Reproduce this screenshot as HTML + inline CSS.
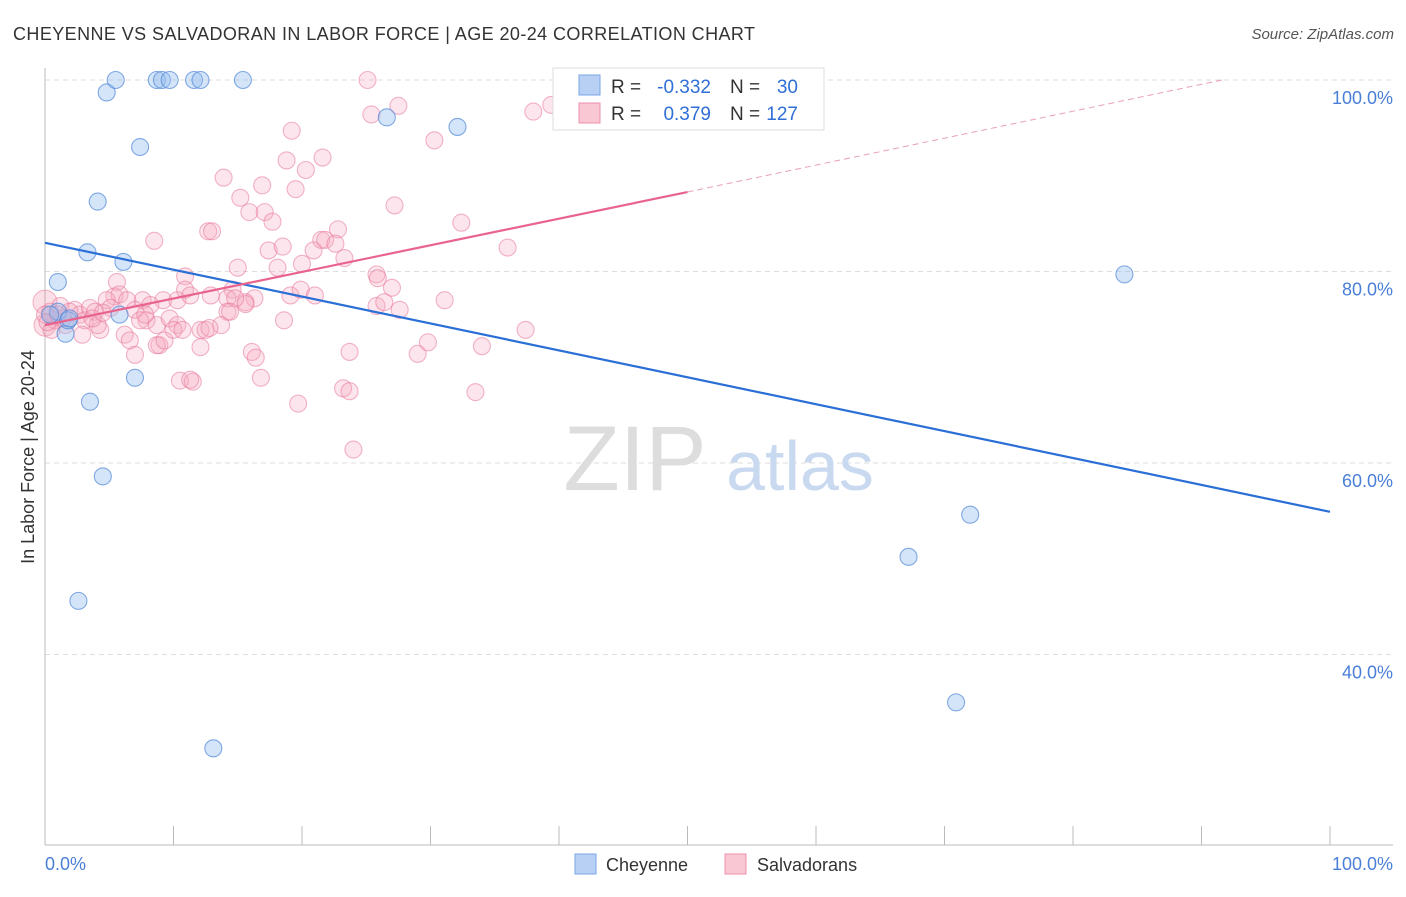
<!DOCTYPE html>
<html><head><meta charset="utf-8"><style>
body{margin:0;background:#fff;font-family:"Liberation Sans",sans-serif;}
svg text{font-family:"Liberation Sans",sans-serif;}
</style></head><body>
<svg width="1406" height="892" viewBox="0 0 1406 892" xmlns="http://www.w3.org/2000/svg">
<text x="13" y="40" font-size="18" fill="#333" textLength="742">CHEYENNE VS SALVADORAN IN LABOR FORCE | AGE 20-24 CORRELATION CHART</text>
<text x="1394" y="39" font-size="15" fill="#555" font-style="italic" text-anchor="end">Source: ZipAtlas.com</text>
<g id="grid"></g>
<g><text x="635" y="490" font-size="92" fill="#ddd" font-family="Liberation Serif" text-anchor="middle">ZIP</text><text x="800" y="490" font-size="70" fill="#c9d9f0" text-anchor="middle">atlas</text></g>
<line x1="45" y1="68" x2="45" y2="845" stroke="#bbb"/>
<line x1="45" y1="845" x2="1393" y2="845" stroke="#bbb"/>
<g id="ticks"></g>
<g id="pink"></g>
<g id="blue"></g>
<g id="lines"></g>
<text x="45" y="870" font-size="18" fill="#4a7fd8">0.0%</text>
<text x="1393" y="870" font-size="18" fill="#4a7fd8" text-anchor="end">100.0%</text>
<text transform="translate(34,457) rotate(-90)" font-size="18" fill="#333" text-anchor="middle">In Labor Force | Age 20-24</text>
<g>
<rect x="553" y="68" width="271" height="62" fill="#fff" stroke="#ddd"/>
<rect x="579" y="75" width="21" height="20" fill="#b8d0f4" stroke="#7aa6e6"/>
<rect x="579" y="103" width="21" height="20" fill="#f9c6d4" stroke="#ee8fab"/>
<text x="611" y="93" font-size="19" fill="#333">R =</text>
<text x="711" y="93" font-size="19" fill="#2f6fd6" text-anchor="end">-0.332</text>
<text x="730" y="93" font-size="19" fill="#333">N =</text>
<text x="798" y="93" font-size="19" fill="#2f6fd6" text-anchor="end">30</text>
<text x="611" y="120" font-size="19" fill="#333">R =</text>
<text x="711" y="120" font-size="19" fill="#2f6fd6" text-anchor="end">0.379</text>
<text x="730" y="120" font-size="19" fill="#333">N =</text>
<text x="798" y="120" font-size="19" fill="#2f6fd6" text-anchor="end">127</text>
</g>
<g>
<rect x="575" y="854" width="21" height="20" fill="#b8d0f4" stroke="#7aa6e6"/>
<text x="606" y="871" font-size="18" fill="#333">Cheyenne</text>
<rect x="725" y="854" width="21" height="20" fill="#f9c6d4" stroke="#ee8fab"/>
<text x="757" y="871" font-size="18" fill="#333">Salvadorans</text>
</g>
</svg>
<script>
const yTicks=[100,80,60,40];
const yTickLabels=["100.0%","80.0%","60.0%","40.0%"];
const blueX=[1.0,1.6,3.5,4.5,2.6,13.1,1.0,3.3,4.1,4.8,5.5,7.4,6.1,7.0,5.8,8.7,9.1,9.7,11.6,12.1,15.4,26.6,32.1,84.0,72.0,67.2,70.9,1.8,0.4,1.9];
const blueY=[78.9,73.5,66.4,58.6,45.6,30.2,75.8,82.0,87.3,98.7,100,93.0,81.0,68.9,75.5,100,100,100,100,100,100,96.1,95.1,79.7,54.6,50.2,35.0,74.9,75.5,75.1];
const pinkX=[25.1,27.5,25.4,38.0,39.4,30.3,19.2,18.8,21.6,20.3,19.5,16.9,13.9,15.2,15.9,17.1,17.7,27.2,32.4,8.5,12.7,13.0,17.4,18.5,20.9,21.5,22.8,21.8,22.6,23.3,15.0,10.9,18.1,20.0,25.8,25.9,27.0,36.0,5.6,7.6,9.2,10.3,10.9,11.3,12.9,14.6,14.2,16.3,15.6,19.1,19.9,21.0,25.8,26.4,27.6,31.1,37.4,5.4,5.8,4.8,6.4,7.0,8.2,7.9,8.7,9.7,10.3,12.1,12.5,14.2,13.7,18.6,15.6,6.2,6.6,7.0,8.9,8.7,12.1,9.3,16.1,16.4,23.7,29.0,29.8,34.0,10.5,11.5,11.3,16.8,19.7,23.2,23.7,33.5,24.0,1.2,0.4,0.8,1.6,2.3,2.7,3.1,3.5,3.9,4.3,4.1,0.5,1.9,1.4,0,0.2,1.0,2.9,3.7,5.1,4.5,7.4,7.8,10.0,10.7,14.8,14.4,12.8];
const pinkY=[100,97.3,96.4,96.7,97.4,93.7,94.7,91.6,91.9,90.6,88.6,89.0,89.8,87.7,86.2,86.2,85.2,86.9,85.1,83.2,84.2,84.2,82.2,82.6,82.2,83.3,84.4,83.3,82.9,81.4,80.4,79.5,80.4,80.8,79.7,79.3,78.3,82.5,78.9,77.0,77.0,77.0,78.1,77.5,77.5,78.1,77.2,77.2,76.8,77.5,78.1,77.5,76.4,76.8,76.0,77.0,73.9,77.4,77.6,77.0,77.0,76.0,76.5,74.9,74.4,75.1,74.4,73.9,73.9,75.8,74.4,74.9,76.6,73.4,72.8,71.3,72.3,72.3,72.1,72.8,71.6,71.0,71.6,71.4,72.6,72.2,68.6,68.5,68.7,68.9,66.2,67.8,67.5,67.4,61.4,76.4,75.8,74.9,74.4,76.0,75.5,74.9,76.2,75.8,73.9,74.4,73.9,75.8,75.1,75.5,74.7,75.5,73.4,75.1,76.2,75.7,74.9,75.5,73.9,73.9,77.2,75.8,74.1];
const blueTrend=[[0,83.0],[100,54.9]];
const pinkTrendSolid=[[0,74.4],[50,88.3]];
const pinkTrendDash=[[50,88.3],[91.6,100]];
const NS='http://www.w3.org/2000/svg';
const sx=v=>45+v*12.85, sy=v=>80+(100-v)*9.575;
function mk(t,a,p){const e=document.createElementNS(NS,t);for(const k in a)e.setAttribute(k,a[k]);p.appendChild(e);return e;}
const grid=document.getElementById('grid');
yTicks.forEach((v,i)=>{
 const l=mk('line',{x1:45,x2:1393,y1:sy(v),y2:sy(v),stroke:'#ddd','stroke-dasharray':'5,4'},grid);
 
 
 const t=mk('text',{x:1393,y:sy(v)+24,'font-size':18,fill:'#4a7fd8','text-anchor':'end'},grid);
 t.textContent=yTickLabels[i];
 
 
});
const ticks=document.getElementById('ticks');
for(let i=1;i<=10;i++){const l=mk('line',{x1:sx(i*10),x2:sx(i*10),y1:826,y2:845,stroke:'#bbb'},ticks);
 
 }
const pink=document.getElementById('pink');
[[0,76.8,12],[0,74.4,11]].forEach(p=>{const c=mk('circle',{cx:sx(p[0]),cy:sy(p[1]),r:p[2],fill:'rgba(240,130,160,0.25)',stroke:'rgba(230,110,145,0.5)'},pink);
 
 });
pinkX.forEach((x,i)=>{const c=mk('circle',{cx:sx(x),cy:sy(pinkY[i]),r:8.5,fill:'rgba(246,170,192,0.3)',stroke:'rgba(232,120,155,0.55)','stroke-width':1.1},pink);
 
 });
const blue=document.getElementById('blue');
blueX.forEach((x,i)=>{const c=mk('circle',{cx:sx(x),cy:sy(blueY[i]),r:8.5,fill:'rgba(150,190,240,0.4)',stroke:'rgba(80,135,215,0.7)','stroke-width':1.1},blue);
 
 });
const lines=document.getElementById('lines');
let l1=mk('line',{x1:sx(blueTrend[0][0]),y1:sy(blueTrend[0][1]),x2:sx(blueTrend[1][0]),y2:sy(blueTrend[1][1]),stroke:'#2a6fd6','stroke-width':2.2},lines);


let l2=mk('line',{x1:sx(pinkTrendSolid[0][0]),y1:sy(pinkTrendSolid[0][1]),x2:sx(pinkTrendSolid[1][0]),y2:sy(pinkTrendSolid[1][1]),stroke:'#e8648f','stroke-width':2.2},lines);


let l3=mk('line',{x1:sx(pinkTrendDash[0][0]),y1:sy(pinkTrendDash[0][1]),x2:sx(pinkTrendDash[1][0]),y2:sy(pinkTrendDash[1][1]),stroke:'#eaa0b6','stroke-width':1,'stroke-dasharray':'6,4'},lines);


</script>
</body></html>
